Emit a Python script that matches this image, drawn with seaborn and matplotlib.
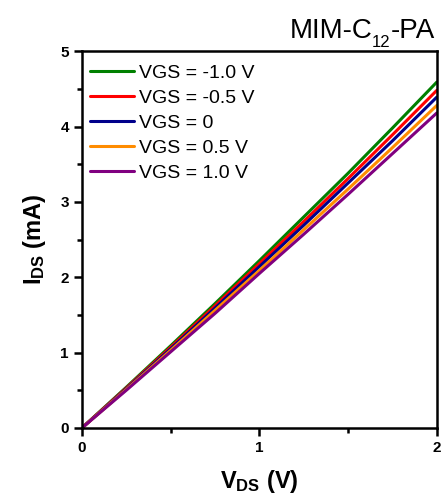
import matplotlib
matplotlib.use("Agg")
import matplotlib.pyplot as plt
import seaborn as sns
import pandas as pd
from matplotlib.ticker import MultipleLocator

# Output characteristics of the MIM-C12-PA device
vds = [0.0, 0.25, 0.5, 0.75, 1.0, 1.25, 1.5, 1.75, 2.0]
ids_m10 = [0.0, 0.54, 1.09, 1.65, 2.22, 2.80, 3.38, 3.98, 4.59]
ids_m05 = [0.0, 0.53, 1.07, 1.62, 2.18, 2.74, 3.31, 3.89, 4.48]
ids_0 = [0.0, 0.52, 1.05, 1.59, 2.14, 2.69, 3.25, 3.81, 4.39]
ids_p05 = [0.0, 0.51, 1.03, 1.56, 2.09, 2.63, 3.17, 3.72, 4.28]
ids_p10 = [0.0, 0.50, 1.01, 1.52, 2.05, 2.57, 3.10, 3.64, 4.18]
labels = ["VGS = -1.0 V", "VGS = -0.5 V", "VGS = 0", "VGS = 0.5 V", "VGS = 1.0 V"]
colors = ["#008000", "#ff0000", "#00008b", "#ff8c00", "#800080"]

series = [ids_m10, ids_m05, ids_0, ids_p05, ids_p10]
df = pd.concat(
    [pd.DataFrame({"VDS": vds, "IDS": s, "VGS": lab}) for s, lab in zip(series, labels)],
    ignore_index=True,
)

sns.set_style("ticks")
plt.rcParams["font.family"] = ["Liberation Sans", "DejaVu Sans"]
plt.rcParams["mathtext.fontset"] = "custom"
plt.rcParams["mathtext.rm"] = "Liberation Sans"
plt.rcParams["mathtext.bf"] = "Liberation Sans:bold"
for key in ["text.color", "axes.labelcolor", "xtick.color", "ytick.color", "axes.edgecolor"]:
    plt.rcParams[key] = "black"

fig = plt.figure(figsize=(4.43, 4.97), dpi=100)
ax = fig.add_axes([0.185, 0.139, 0.801, 0.758])

sns.lineplot(data=df, x="VDS", y="IDS", hue="VGS", palette=colors,
             hue_order=labels, linewidth=2.2, ax=ax)

ax.set_xlim(0, 2)
ax.set_ylim(0, 5)
ax.xaxis.set_major_locator(MultipleLocator(1))
ax.xaxis.set_minor_locator(MultipleLocator(0.5))
ax.yaxis.set_major_locator(MultipleLocator(1))
ax.yaxis.set_minor_locator(MultipleLocator(0.5))
ax.tick_params(which="major", direction="out", length=6, width=1.8, labelsize=11)
ax.tick_params(which="minor", direction="out", length=3.5, width=1.8)
for lbl in ax.get_xticklabels() + ax.get_yticklabels():
    lbl.set_fontweight("bold")
for sp in ax.spines.values():
    sp.set_visible(True)
    sp.set_linewidth(1.8)

ax.set_xlabel(r"$\mathbf{V_{DS}}$ (V)", fontsize=17, fontweight="bold", labelpad=9)
ax.set_ylabel(r"$\mathbf{I_{DS}}$ (mA)", fontsize=17, fontweight="bold", labelpad=9)

# Title with a lowered subscript, assembled from three pieces (right aligned)
fig.canvas.draw()
renderer = fig.canvas.get_renderer()
title_size = 20
sub_size = 12
base_y = 1 - 38 / 497
sub_y = 1 - 47 / 497
right_x = 1 - 8 / 443
t3 = fig.text(right_x, base_y, "-PA", fontsize=title_size, ha="right", va="baseline")
w3 = t3.get_window_extent(renderer).width / fig.bbox.width
t2 = fig.text(right_x - w3, sub_y, "12", fontsize=sub_size, ha="right", va="baseline")
w2 = t2.get_window_extent(renderer).width / fig.bbox.width
fig.text(right_x - w3 - w2, base_y, "MIM-C", fontsize=title_size, ha="right", va="baseline")

ax.legend(loc="upper left", bbox_to_anchor=(0.0, 0.985), frameon=False,
          fontsize=14, handlelength=2.3, handletextpad=0.25, labelspacing=0.38,
          borderaxespad=0.15, borderpad=0.25)

fig.savefig("out.png", dpi=100)
